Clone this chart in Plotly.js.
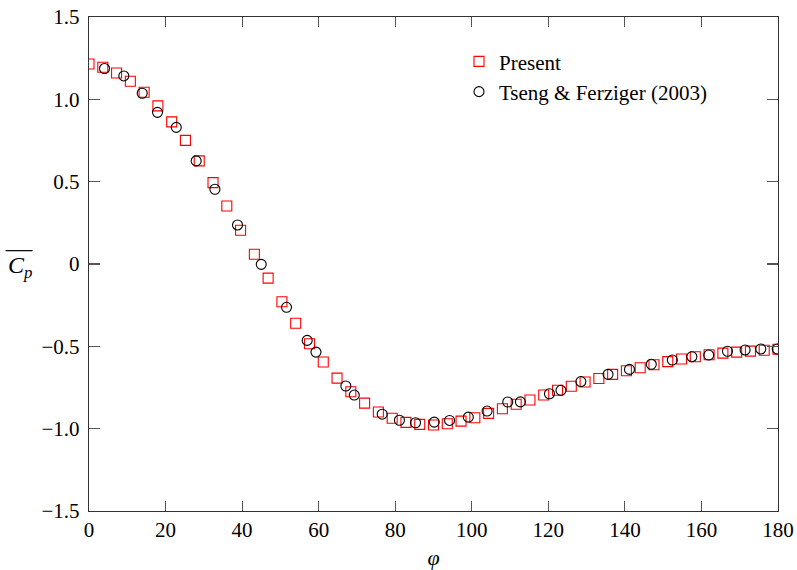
<!DOCTYPE html>
<html>
<head>
<meta charset="utf-8">
<script src="https://cdn.plot.ly/plotly-3.0.1.min.js"></script>
<style>html,body{margin:0;padding:0;background:#fff;}#chart{width:797px;height:570px;}</style>
</head>
<body>
<div id="chart"></div>
<script>
// Present simulation
const presentPhi = [0, 3.6, 7.2, 10.8, 14.4, 18.0, 21.6, 25.2, 28.8, 32.4, 36.0, 39.6, 43.2, 46.8, 50.4, 54.0, 57.6, 61.2, 64.8, 68.4, 72.0, 75.6, 79.2, 82.8, 86.4, 90.0, 93.6, 97.2, 100.8, 104.4, 108.0, 111.6, 115.2, 118.8, 122.4, 126.0, 129.6, 133.2, 136.8, 140.4, 144.0, 147.6, 151.2, 154.8, 158.4, 162.0, 165.6, 169.2, 172.8, 176.4, 180.0];
const presentCp = [1.215, 1.195, 1.16, 1.11, 1.043, 0.96, 0.863, 0.751, 0.626, 0.494, 0.352, 0.205, 0.059, -0.086, -0.229, -0.360, -0.484, -0.595, -0.693, -0.776, -0.845, -0.899, -0.937, -0.962, -0.974, -0.978, -0.970, -0.954, -0.934, -0.907, -0.879, -0.852, -0.826, -0.796, -0.767, -0.742, -0.717, -0.695, -0.670, -0.648, -0.630, -0.612, -0.593, -0.577, -0.563, -0.551, -0.541, -0.535, -0.529, -0.524, -0.518];

// Tseng & Ferziger (2003)
const tsengPhi = [4.05, 9.1, 13.9, 17.9, 22.8, 28.0, 32.9, 38.8, 45.0, 51.6, 57.0, 59.3, 67.1, 69.3, 76.6, 81.1, 85.3, 90.2, 94.2, 99.1, 104.0, 109.4, 112.7, 120.3, 123.3, 128.5, 135.6, 141.2, 146.9, 152.4, 157.5, 161.9, 166.8, 171.4, 175.5, 179.8];
const tsengCp = [1.187, 1.142, 1.037, 0.921, 0.830, 0.626, 0.454, 0.237, -0.002, -0.263, -0.464, -0.535, -0.741, -0.796, -0.912, -0.949, -0.964, -0.960, -0.950, -0.930, -0.893, -0.838, -0.837, -0.788, -0.767, -0.714, -0.670, -0.640, -0.609, -0.583, -0.563, -0.553, -0.530, -0.522, -0.516, -0.516];

const seriesNames = ["Present", "Tseng &amp; Ferziger (2003)"];
const xTickVals = [0, 20, 40, 60, 80, 100, 120, 140, 160, 180];
const yTickVals = [1.5, 1.0, 0.5, 0, -0.5, -1.0, -1.5];
const yTickText = ["1.5", "1.0", "0.5", "0", "\u22120.5", "\u22121.0", "\u22121.5"];

const FONT = "Liberation Serif, Times New Roman, serif";

const traces = [
  {
    x: presentPhi, y: presentCp, name: seriesNames[0], type: "scatter", mode: "markers",
    legendgroup: "a",
    marker: {symbol: "square-open", size: 10, color: "#ff0000", line: {width: 1.1, color: "#ff0000"}}
  },
  {
    x: tsengPhi, y: tsengCp, name: seriesNames[1], type: "scatter", mode: "markers",
    legendgroup: "b",
    marker: {symbol: "circle-open", size: 10, color: "#000000", line: {width: 1.1, color: "#000000"}}
  }
];

const axisCommon = {
  showgrid: false, zeroline: false, showline: true, linecolor: "#333", linewidth: 1.2,
  ticks: "inside", tickcolor: "#555", tickwidth: 1.2, mirror: "ticks",
  tickfont: {family: FONT, size: 21, color: "#000"}
};

const layout = {
  width: 797, height: 570,
  margin: {l: 88.5, r: 19, t: 17, b: 59},
  paper_bgcolor: "#fff", plot_bgcolor: "#fff",
  font: {family: FONT, size: 21, color: "#000"},
  showlegend: true,
  legend: {
    x: 0.537, y: 0.951, xanchor: "left", yanchor: "top",
    bgcolor: "rgba(0,0,0,0)", borderwidth: 0,
    font: {family: FONT, size: 21, color: "#000"},
    tracegroupgap: 0
  },
  xaxis: Object.assign({}, axisCommon, {
    range: [0, 180], tickvals: xTickVals, ticklen: 10,
    title: {text: "<i>\u03c6</i>", font: {family: FONT, size: 22}, standoff: 10}
  }),
  yaxis: Object.assign({}, axisCommon, {
    range: [-1.5, 1.5], tickvals: yTickVals, ticktext: yTickText, ticklen: 11,
    ticklabelstandoff: 4
  }),
  annotations: [
    {
      xref: "paper", yref: "y", x: -0.1, y: -0.02, xanchor: "center", yanchor: "middle",
      showarrow: false,
      text: "<i>C<sub>p</sub></i>",
      font: {family: FONT, size: 24, color: "#000"}
    }
  ],
  shapes: [
    {
      type: "line", xref: "paper", yref: "paper",
      x0: -0.1211, x1: -0.0819, y0: 0.527, y1: 0.527,
      line: {color: "#000", width: 1.2}
    }
  ]
};

Plotly.newPlot("chart", traces, layout, {displayModeBar: false, staticPlot: true});
</script>
</body>
</html>
